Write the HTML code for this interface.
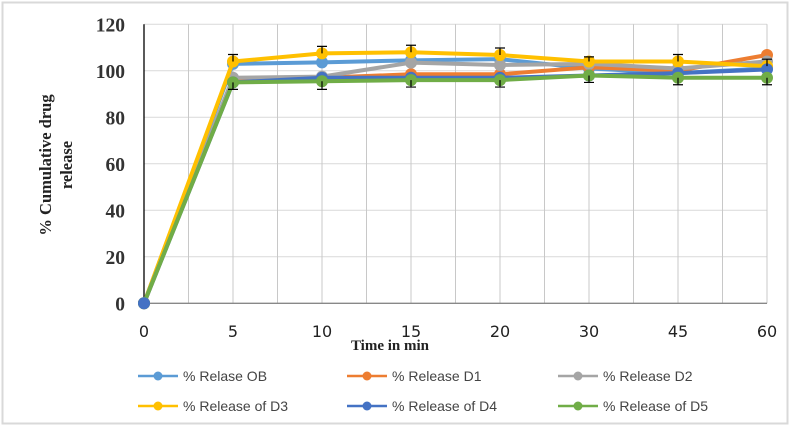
<!DOCTYPE html>
<html><head><meta charset="utf-8"><style>
html,body{margin:0;padding:0;background:#fff}
svg{display:block}
</style></head><body>
<svg id="chart" width="793" height="428" xmlns="http://www.w3.org/2000/svg">
<rect x="2.5" y="2.5" width="785" height="421" fill="#fff" stroke="#d9d9d9" stroke-width="2"/>
<g id="grid"></g>
<g id="axes"></g>
<g id="series"></g>
<text x="390" y="350" text-anchor="middle" font-family="Liberation Serif, serif" font-weight="bold" font-size="15" fill="#222">Time in min</text>
<text transform="translate(51,165) rotate(-90)" text-anchor="middle" font-family="Liberation Serif, serif" font-weight="bold" font-size="16.5" fill="#222"><tspan x="0" y="0">% Cumulative drug</tspan><tspan x="0" y="21">release</tspan></text>
<g id="legend"></g>
</svg>
<script>
const categories = ["0","5","10","15","20","30","45","60"];
const yTicks = [0,20,40,60,80,100,120];
const seriesNames = ["% Relase OB","% Release D1","% Release D2","% Release of D3","% Release of D4","% Release of D5"];
const seriesColors = ["#5b9bd5","#ed7d31","#a5a5a5","#ffc000","#4472c4","#70ad47"];
const relOB = [0,103,103.6,104.5,105,101,99,101];
const relD1 = [0,96,97,98.5,98.5,101.5,100,106.8];
const relD2 = [0,97,97.5,103.5,102.5,103,101,104];
const relD3 = [0,104,107.5,108,106.8,104,104,102];
const relD4 = [0,95,97,97,97,98,99,100.6];
const relD5 = [0,95,95.5,96,96,98,97,97];
const errD3 = [0,3,3,3,3,2,3,3];
const errD5 = [0,3,3.5,3,3,3,3,3];
const allSeries = [relOB,relD1,relD2,relD3,relD4,relD5];

const NS="http://www.w3.org/2000/svg";
const L=144,R=767,T=24.3,B=303.3;
const xs=i=>L+(R-L)*i/(categories.length-1);
const ys=v=>B-(B-T)*v/120;
function mk(tag,attrs,parent){const e=document.createElementNS(NS,tag);for(const k in attrs)e.setAttribute(k,attrs[k]);parent.appendChild(e);return e;}
const grid=document.getElementById('grid'),axes=document.getElementById('axes'),ser=document.getElementById('series'),leg=document.getElementById('legend');
yTicks.forEach(t=>{
  if(t>0){const g=mk('line',{x1:L,x2:R,y1:ys(t),y2:ys(t),stroke:'#d9d9d9','stroke-width':1},grid);
  
  }
  const tx=mk('text',{x:125,y:ys(t)+7,'text-anchor':'end','font-family':'Liberation Serif, serif','font-weight':'bold','font-size':19.5,fill:'#333'},axes);
  tx.textContent=t;
  
  
});
for(let i=1;i<categories.length*2-1;i++){
  const x=L+(R-L)*i/(2*(categories.length-1));
  const g=mk('line',{x1:x,x2:x,y1:T,y2:B,stroke:'#c8c8c8','stroke-width':1},grid);
  
  
}
categories.forEach((c,i)=>{
  const tx=mk('text',{x:xs(i),y:337,'text-anchor':'middle','font-family':'DejaVu Sans, sans-serif','font-size':16,fill:'#222'},axes);
  tx.textContent=c;
  
  
});
const ya=mk('line',{x1:L,x2:L,y1:T,y2:B,stroke:'#000','stroke-width':1.3},axes);


const xa=mk('line',{x1:L,x2:R,y1:B,y2:B,stroke:'#888','stroke-width':1.3},axes);



function errBars(vals,errs,dir){
  vals.forEach((v,i)=>{
    if(!errs[i])return;
    const y2=ys(v+dir*errs[i]);
    const g=mk('path',{d:`M${xs(i)},${ys(v)}V${y2}M${xs(i)-5},${y2}H${xs(i)+5}`,stroke:'#000','stroke-width':1.2,fill:'none'},ser);
    
    
  });
}
allSeries.forEach((vals,s)=>{
  const pts=vals.map((v,i)=>xs(i)+','+ys(v)).join(' ');
  const pl=mk('polyline',{points:pts,fill:'none',stroke:seriesColors[s],'stroke-width':4,'stroke-linejoin':'round'},ser);
  
  
  vals.forEach((v,i)=>{
    const c=mk('circle',{cx:xs(i),cy:ys(v),r:6,fill:seriesColors[s]},ser);
    
    
  });
});
const top0=mk('circle',{cx:xs(0),cy:ys(relD4[0]),r:6,fill:seriesColors[4]},ser);


errBars(relD3,errD3,1);
errBars(relD5,errD5,-1);

const legX=[138,347,558],legY=[376,406];
seriesNames.forEach((n,s)=>{
  const x=legX[s%3],y=legY[Math.floor(s/3)];
  const g=mk('g',{},leg);
  
  
  mk('line',{x1:x,x2:x+40,y1:y,y2:y,stroke:seriesColors[s],'stroke-width':2.5},g);
  mk('circle',{cx:x+20,cy:y,r:4.5,fill:seriesColors[s]},g);
  const t=mk('text',{x:x+45,y:y+5,'font-family':'Liberation Sans, sans-serif','font-size':14,fill:'#444'},g);
  t.textContent=n;
});
</script>
</body></html>
